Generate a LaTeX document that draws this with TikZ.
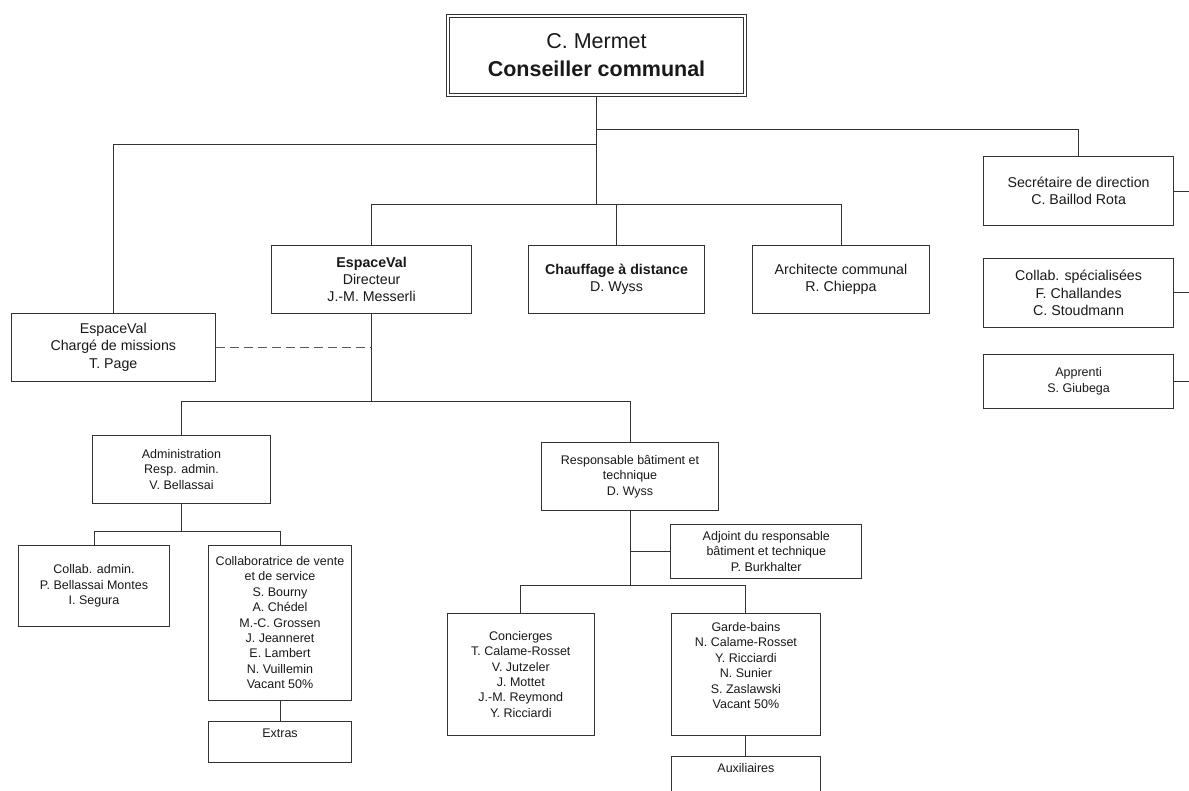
\documentclass[tikz,border=0pt]{standalone}
\usepackage{fontspec}
\setmainfont{Liberation Sans}
\pgfdeclarelayer{bg}
\pgfsetlayers{bg,main}
\begin{document}
\begin{tikzpicture}[x=1pt,y=-1pt,
  ln/.style={line width=1pt, draw=black!80},
  box/.style={ln, rectangle, inner sep=0pt, align=center, text=black!90, fill=white},
  topbox/.style={box, double, double distance=2pt, line width=0.9pt, font=\fontsize{21.5}{28}\selectfont},
  mid/.style={box, font=\fontsize{14.2}{17.2}\selectfont},
  low/.style={box, font=\fontsize{12.5}{15.4}\selectfont},
  lowtxt/.style={inner sep=0pt, align=center, text=black!90, font=\fontsize{12.5}{15.4}\selectfont},
  dashline/.style={ln, draw=black!65, dash pattern=on 9pt off 5pt}
]
\useasboundingbox (0,0) rectangle (1189,790);

% boxes
\node[topbox, minimum width=297pt, minimum height=79.4pt] (top) at (596.5,55.5) {C. Mermet\\\textbf{Conseiller communal}};
\node[mid, minimum width=203.5pt, minimum height=67.7pt] (charge) at (113.3,347.2) {EspaceVal\\Chargé de missions\\T. Page};
\node[mid, minimum width=200.6pt, minimum height=67.6pt] (dir) at (371.6,279.5) {\textbf{EspaceVal}\\Directeur\\J.-M. Messerli};
\node[mid, minimum width=176.7pt, minimum height=67.6pt] (chauf) at (616.5,279.5) {\textbf{Chauffage à distance}\\D. Wyss};
\node[mid, minimum width=177pt, minimum height=67.6pt] (arch) at (841,279.5) {Architecte communal\\R. Chieppa};
\node[mid, minimum width=190pt, minimum height=69pt] (sec) at (1078.6,191.2) {Secrétaire de direction\\C. Baillod Rota};
\node[mid, minimum width=190pt, minimum height=68.3pt] (spec) at (1078.6,292.9) {Collab. spécialisées\\F. Challandes\\C. Stoudmann};
\node[low, minimum width=190pt, minimum height=54.3pt] (appr) at (1078.6,381.2) {Apprenti\\S. Giubega};
\node[low, minimum width=177.6pt, minimum height=67.6pt] (admin) at (181.5,469.5) {Administration\\Resp. admin.\\V. Bellassai};
\node[low, minimum width=176.6pt, minimum height=68pt] (resp) at (630,476.7) {Responsable bâtiment et\\technique\\D. Wyss};
\node[low, minimum width=190.7pt, minimum height=54.4pt] (adj) at (766.3,551.5) {Adjoint du responsable\\bâtiment et technique\\P. Burkhalter};
\node[low, minimum width=150.6pt, minimum height=81.4pt] (cadm) at (94,586) {Collab. admin.\\P. Bellassai Montes\\I. Segura};
\node[low, minimum width=143.4pt, minimum height=154.7pt] (vente) at (280,622.7) {Collaboratrice de vente\\et de service\\S. Bourny\\A. Chédel\\M.-C. Grossen\\J. Jeanneret\\E. Lambert\\N. Vuillemin\\Vacant 50\%};
\node[low, minimum width=143.4pt, minimum height=40.6pt] (extras) at (280,742) {};
\node[lowtxt] (extrast) at (280,733.3) {Extras};
\node[low, minimum width=147pt, minimum height=122pt] (conc) at (520.8,674.3) {Concierges\\T. Calame-Rosset\\V. Jutzeler\\J. Mottet\\J.-M. Reymond\\Y. Ricciardi};
\node[low, minimum width=149.7pt, minimum height=122pt] (garde) at (745.9,674.3) {};
\node[lowtxt] (gardet) at (745.9,665.5) {Garde-bains\\N. Calame-Rosset\\Y. Ricciardi\\N. Sunier\\S. Zaslawski\\Vacant 50\%};
\node[low, minimum width=149.7pt, minimum height=60pt] (aux) at (745.9,786.7) {};
\node[lowtxt] (auxt) at (745.9,768.3) {Auxiliaires};

% junctions
\coordinate (j1) at (596.5,129.3);
\coordinate (j2) at (596.5,144.3);
\coordinate (j3) at (596.5,204.7);
\coordinate (b2) at (371.6,401.7);
\coordinate (b3) at (181.5,531.7);
\coordinate (b4) at (630,585.7);
\coordinate (edge) at (1189,0);

\begin{pgfonlayer}{bg}
\fill[white] (0,0) rectangle (1189,790);
\draw[ln] (top.south) -- (j3);
\draw[ln] (j1) -| (sec.north);
\draw[ln] (j2) -| (charge.north);
\draw[ln] (dir.north) |- (j3) -| (arch.north);
\draw[ln] (chauf.north) -- (chauf.north |- j3);
\draw[dashline] (charge.east) -- (charge.east -| dir.south);
\draw[ln] (dir.south) -- (b2);
\draw[ln] (admin.north) |- (b2) -| (resp.north);
\draw[ln] (admin.south) -- (b3);
\draw[ln] (cadm.north) |- (b3) -| (vente.north);
\draw[ln] (vente.south) -- (extras.north);
\draw[ln] (resp.south) -- (b4);
\draw[ln] (resp.south |- adj.west) -- (adj.west);
\draw[ln] (conc.north) |- (b4) -| (garde.north);
\draw[ln] (garde.south) -- (aux.north);
\draw[ln] (sec.east) -- (sec.east -| edge);
\draw[ln] (spec.east) -- (spec.east -| edge);
\draw[ln] (appr.east) -- (appr.east -| edge);
\end{pgfonlayer}
\end{tikzpicture}
\end{document}
